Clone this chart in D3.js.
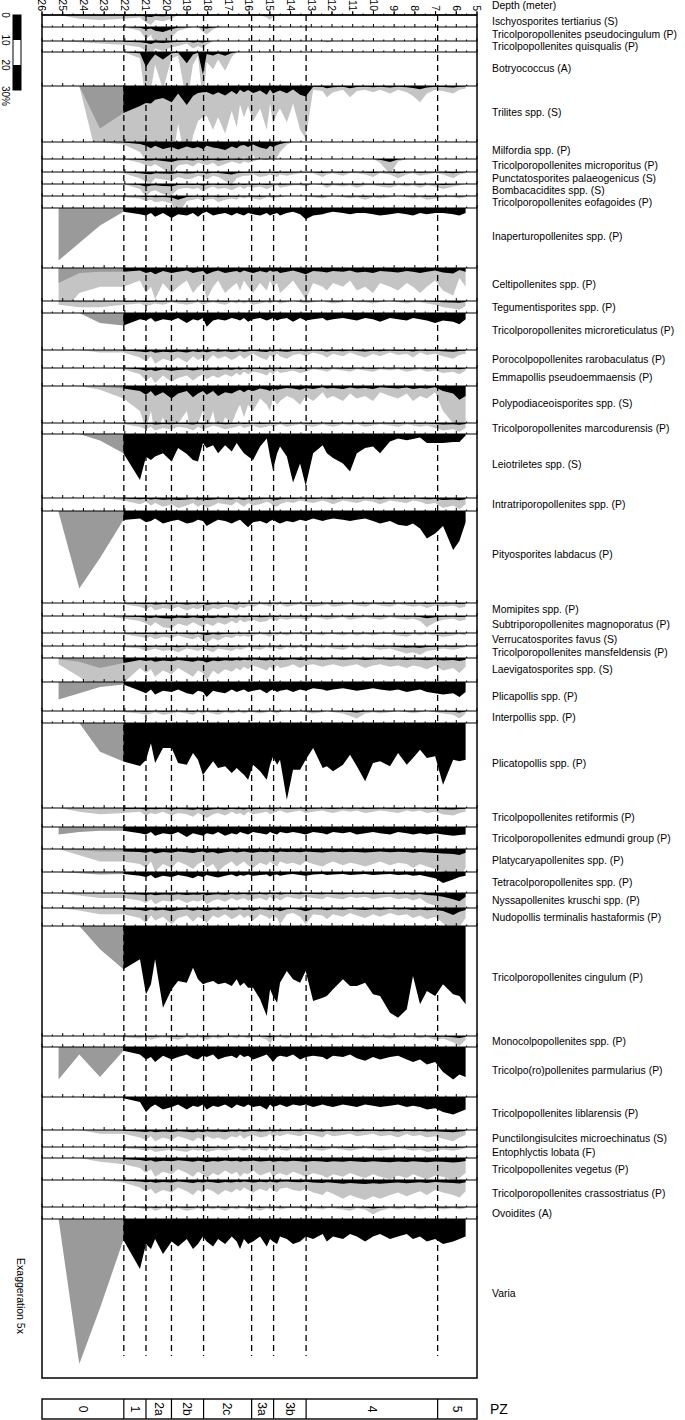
<!DOCTYPE html>
<html><head><meta charset="utf-8">
<script src="https://cdn.jsdelivr.net/npm/d3@7"></script>
<style>body{margin:0;background:#fff}svg{display:block;font-family:"Liberation Sans",Arial,sans-serif}</style>
</head><body><svg id="c" width="685" height="1420"></svg>
<script>
// ---- sample depths (m): 3 zone-0 samples, then main section
const depths = [25.2,24.2,23.2,
 22.07,21.27,20.98,20.74,20.54,20.16,19.74,19.43,19.01,18.71,
 18.47,18.23,18.05,17.74,17.50,17.16,16.84,16.60,16.44,16.25,
 16.05,15.81,15.47,15.15,14.99,14.85,14.65,14.51,14.18,13.88,
 13.54,13.27,12.91,12.45,12.25,11.95,11.47,11.13,10.80,10.40,
 10.02,9.68,9.20,8.81,8.39,8.09,7.75,7.42,7.02,6.64,
 6.15,5.85,5.55];
const depthTicks = [26,25,24,23,22,21,20,19,18,17,16,15,14,13,12,11,10,9,8,7,6,5];
const zoneBounds = [26,22.05,20.98,19.75,18.2,15.88,14.82,13.25,6.9,5];
const zoneLabels = ["0","1","2a","2b","2c","3a","3b","4","5"];
const scaleTicks = [0,10,20,30];

// ---- percentages per taxon (same order as depths)
const ischyo=[0,0.3,0.4, 0.3,0.2,0.6,0.8,0.4,0.5,0.3,0,0,0.1, 0,0,0.1,0,0,0,0,0,0,0, 0,0,0,0.2,0.4,0.1,0,0,0,0, 0,0,0,0,0,0,0,0,0,0, 0,0,0,0,0,0,0,0,0,0, 0,0,0];
const pseudocing=[0,0,0, 0,0.3,1.0,0.6,1.5,2.0,0.8,0.3,0.1,0, 0,0.4,0.6,0.2,0,0,0,0,0,0, 0,0,0,0,0.1,0,0,0,0,0, 0,0,0,0,0,0,0,0,0,0, 0,0,0,0,0,0,0,0,0,0, 0,0,0];
const quisq=[0,0.1,0.2, 0.3,0.5,0.8,1.2,0.6,0.8,0.5,0.4,0.2,0.6, 0.4,0.6,0.3,0,0,0,0,0,0,0, 0,0,0,0,0,0,0,0,0,0, 0,0,0,0,0.1,0,0,0,0,0, 0,0,0,0,0,0,0,0,0,0, 0,0,0];
const botryo=[0,0,0, 0,0.5,6,3,1,3,0.5,0.3,4.5,1, 0.3,9,0.8,1.4,0.6,1.5,0.4,0,0,0, 0,0,0,0,0,0,0,0,0,0, 0,0,0,0,0,0,0,0,0,0, 0,0,0,0,0,0,0,0,0,0, 0,0,0];
const trilites=[0,0,17, 10.8,8,6.8,7,5.5,4.8,6.5,3,7.6,4, 2.8,2.5,2.4,3.5,2.5,3.8,2,3.3,1.5,2.5, 1.6,2.8,1.8,3.5,1.4,3,2.2,1.8,2.9,1.4, 3.5,4.2,0.3,0.4,0.9,0.5,0.3,0.9,0.4,0.3, 0.5,0.3,0.6,0.3,0.5,0.8,1.3,0.6,0.3,0.4, 0.6,0.3,0.2];
const milfordia=[0,0,0, 0.2,0.8,1.5,2.5,1.5,2.8,2.0,3.0,1.8,2.5, 2,2.8,1.5,2.2,2.5,3.2,1.8,2.5,1.5,1.2, 2.0,1.0,2.2,2.8,1.5,2,1.2,0.8,0.2,0, 0,0,0,0,0,0,0,0,0,0, 0,0,0,0,0,0,0,0,0,0, 0,0,0];
const micropor=[0,0,0, 0,0.3,0.5,0.6,0.4,0.8,1.2,0.5,0.4,0.6, 0.3,0.4,0.5,0.3,0.6,0.4,0.2,0.3,0.4,0.2, 0.3,0.2,0,0.1,0,0,0,0,0,0, 0,0,0,0,0,0,0,0,0,0, 0,0.3,1.2,0.2,0,0,0,0,0,0, 0,0,0];
const punctato=[0,0,0, 0.1,0.5,0.8,0.9,0.5,0.6,0.7,0.4,0.6,0.5, 0.3,0.4,0.6,0.3,0.4,0.7,1.0,0.5,0.4,0.3, 0.3,0.2,0.4,0.3,0.2,0.3,0.4,0.2,0.3,0.2, 0.1,0.1,0.1,0.4,0.2,0.1,0.3,0.1,0.1,0.2, 0.4,0.1,0.2,0.5,0.2,0.1,0.3,0.2,0.1,0.2, 0.5,0.2,0.1];
const bombac=[0,0,0, 0,0.4,1.0,0.6,0.5,0.8,0.9,0.4,0.3,0.4, 0.3,0.6,0.4,0.2,0.4,0.3,0.5,0.3,0.2,0.4, 0.2,0.3,0.2,0.4,0.3,0.2,0.1,0.3,0.2,0.1, 0.1,0.2,0,0.1,0.3,0.1,0.2,0.1,0.3,0.1, 0.1,0.2,0.3,0.1,0.2,0.1,0.3,0.1,0.2,0.4, 0.2,0.1,0];
const eofag=[0,0,0, 0.1,0.2,0.4,0.3,0.5,0.4,0.6,1.5,0.4,0.3, 0.2,0.4,0.3,0.2,0.5,0.3,0.2,0.3,0.1,0.2, 0.1,0.2,0.3,0.1,0.1,0.2,0.1,0.1,0,0, 0,0,0.1,0.2,0.1,0,0.1,0.2,0.1,0.3, 0.1,0.2,0.1,0,0.1,0.2,0.1,0.3,0.2,0.1, 0.1,0.2,0.1];
const inapert=[21,14,7, 1.5,2.5,3,2,3.5,2,4,2.5,3,2, 3.5,2,1.5,3,2.5,2,3,2,2.5,3, 2,2.5,3,2,3,2.5,2,3,2,1.5, 2.5,4.5,3,2.5,2,1.5,2,2.5,2,2, 2.5,3,2.5,2,2.5,3,2,2.5,2,2, 2.5,3,2];
const celti=[6,2,1.5, 1.5,1,2,1.5,2.5,1.2,2,1.5,1,2, 1.5,1.2,2.5,1.5,1,2,1.5,1.2,1.8,1, 1.5,2,1.2,1.8,1,1.5,1.2,2,1.5,1, 1.8,2.5,1.2,1.5,1.8,1.2,1.5,1,1.8,1.5, 2,1.2,1.5,1.8,1.2,1.5,2,1.5,1,1.8, 2.2,0.8,1.5];
const tegument=[0.3,0.5,0.5, 0.3,0.2,0.4,0.3,0.2,0.3,0.1,0.2,0.3,0.2, 0.1,0.3,0.2,0.1,0.2,0.3,0.1,0.2,0.1,0.2, 0.1,0.3,0.2,0.1,0.2,0.1,0.1,0.2,0.1,0, 0.1,0.2,0.1,0,0.1,0.2,0.1,0,0.1,0.1, 0.2,0.1,0,0.1,0.2,0.1,0.1,0.2,0.3,0.5, 0.6,0.7,0.4];
const microret=[0,0,4, 5,2.5,3,2,3.5,2.5,3,2,4,2.5, 3,2,5.5,3,2.5,3,2,2.5,3,2, 3.5,2.5,2,3,2.5,2,3,2.5,2,3.5, 2,3,2.5,2,3,2.5,2,2.5,3,2, 2.5,3.5,2,2.5,3,2,2.5,3,4,3, 3.5,4.5,2.5];
const porocol=[0,0,0.2, 0.2,0.6,0.9,0.5,1.1,0.7,0.9,0.6,1.0,0.5, 0.8,0.6,0.9,0.4,0.7,0.5,0.8,0.6,0.4,0.7, 0.5,0.3,0.6,0.8,0.4,0.6,0.3,0.5,0.7,0.4, 0.3,0.5,0.2,0.4,0.6,0.3,0.5,0.2,0.4,0.6, 0.3,0.5,0.2,0.4,0.3,0.6,0.2,0.4,0.3,0.5, 0.7,0.4,0.3];
const emma=[0,0,0, 0.1,0.5,1.0,0.7,1.2,0.6,1.1,0.8,0.6,1.0, 0.7,0.5,0.9,0.6,0.8,0.5,0.7,0.4,0.6,0.3, 0.5,0.3,0.4,0.6,0.3,0.5,0.2,0.4,0.3,0.2, 0.4,0.3,0.1,0.2,0.3,0.1,0.2,0.3,0.1,0.2, 0.3,0.1,0.2,0.1,0.3,0.2,0.1,0.3,0.2,0.4, 0.3,0.5,0.2];
const polypod=[0,0,0.3, 1,2,3.5,2,4,2.5,5,3,2,4.5, 3,2,3.5,2,4,2.5,3,2,1.5,2.5, 1.5,2,1,1.5,2,1,1.5,1.2,0.8,1, 1.5,0.8,1.2,0.5,1,0.8,1.2,0.6,1,0.8, 1.2,0.5,0.8,1,0.6,1.2,0.8,1,0.5,2, 3,5.5,4];
const marcod=[0,0,0, 0.1,0.3,0.5,0.3,0.6,0.4,0.5,0.3,0.4,0.6, 0.3,0.5,0.4,0.2,0.3,0.5,0.4,0.3,0.2,0.4, 0.3,0.2,0.4,0.3,0.2,0.3,0.2,0.1,0.3,0.2, 0.1,0.2,0.3,0.1,0.2,0.3,0.1,0.2,0.1,0.3, 0.2,0.1,0.2,0.3,0.1,0.2,0.3,0.2,0.4,0.6, 0.5,0.7,0.4];
const leio=[0,0,2.6, 7.7,18.4,9.1,10.4,9,7.7,11,5.6,8,10.4, 11,3.6,5.6,4.5,7.7,4.5,7,3.6,5.6,7.7, 9,10.4,5,1.8,9,14.4,7.7,5,9,19.4, 11.8,20.7,7.7,4.5,7.7,9.6,11.8,15,7.7,5.6, 5,7.7,3,1.8,2.5,2,1.4,3.6,3.6,3.6, 3.2,3.2,0.6];
const intratri=[0,0,0, 0.2,0.5,0.3,0.6,0.4,0.7,0.5,0.8,0.6,0.4, 0.7,0.5,0.8,0.6,0.4,0.5,0.6,0.3,0.5,0.7, 0.4,0.6,0.5,0.3,0.4,0.6,0.7,0.5,0.3,0.4, 0.2,0.3,0.4,0.2,0.3,0.5,0.2,0.3,0.4,0.2, 0.3,0.5,0.2,0.3,0.4,0.2,0.3,0.5,0.4,0.8, 0.6,0.9,0.5];
const pityo=[0.5,31,18.8, 3.6,3,4.5,4,3,5,4,3.5,5,4.5, 3.5,4,6,4.5,3.5,4,5,4,3.5,5, 6.5,4.5,4,5,4,3.5,4.5,5,4,4.5, 3.5,4,3,4,3.5,3,3.5,4,3.5,3, 4,5,4,5.5,6,5,7,11,9,6, 15.6,12,4.5];
const momip=[0,0,0, 0.1,0.3,0.5,0.3,0.6,0.4,0.5,0.3,0.6,0.4, 0.5,0.3,0.7,0.4,0.5,0.3,0.4,0.6,0.3,0.4, 0.2,0.3,0.1,0.2,0.3,0.1,0.2,0.1,0.3,0.2, 0.1,0.2,0.3,0.2,0.1,0.3,0.2,0.1,0.2,0.3, 0.1,0.2,0.3,0.1,0.2,0.3,0.2,0.4,0.2,0.3, 0.2,0.4,0.3];
const subtri=[0,0,0, 0.2,0.4,0.6,0.8,0.5,0.9,1.0,0.6,0.8,0.5, 0.7,0.9,0.6,0.8,0.5,0.7,0.4,0.6,0.3,0.5, 0.4,0.3,0.5,0.4,0.2,0.3,0.4,0.2,0.3,0.2, 0.2,0.3,0.1,0.2,0.3,0.2,0.1,0.3,0.2,0.1, 0.2,0.3,0.1,0.2,0.3,0.2,0.4,0.9,0.5,0.3, 0.2,0.4,0.3];
const verruc=[0,0,0, 0.1,0.3,0.4,0.3,0.5,0.3,0.4,0.2,0.4,0.5, 0.3,0.6,0.8,0.4,0.6,0.3,0.4,0.2,0.3,0.2, 0.3,0.2,0.1,0.2,0.3,0.1,0.2,0.1,0.2,0.1, 0.1,0.2,0.1,0.2,0.1,0.1,0.2,0.1,0.2,0.1, 0.2,0.1,0.1,0.2,0.3,0.1,0.2,0.1,0.2,0.3, 0.2,0.1,0.2];
const mansf=[0,0,0, 0.1,0.2,0.4,0.3,0.2,0.4,0.3,0.5,0.2,0.3, 0.4,0.2,0.3,0.5,0.2,0.3,0.4,0.2,0.3,0.2, 0.1,0.2,0.3,0.1,0.2,0.1,0.2,0.3,0.1,0.2, 0.1,0.2,0.1,0.2,0.1,0.2,0.3,0.1,0.2,0.1, 0.2,0.3,0.2,0.4,0.6,0.5,0.7,0.4,0.3,0.2, 0.3,0.2,0.1];
const laevig=[0.5,1.5,4, 2,0.8,1.2,0.9,1.5,1,1.3,0.8,1.2,1.5, 1,1.2,1.8,1,1.3,0.9,1.1,0.8,1,0.7, 0.9,0.6,0.8,1,0.7,0.9,0.6,0.8,0.7,0.5, 0.8,0.6,0.5,0.7,0.6,0.5,0.7,0.6,0.5,0.8, 0.6,0.5,0.7,0.6,0.8,0.6,0.7,0.9,0.6,1, 0.8,1.2,0.7];
const plicap=[7,4.5,2, 1,3.5,4.5,3,5,3.5,4,3,4.5,5, 3.5,4,6,3.5,4,4.5,3,4,3.5,3, 4,3.5,3,4.5,3.5,3,4,3.5,3,4, 3,3.5,2.5,3,3.5,3,2.5,3,3.5,3, 2.5,3,3.5,3,4,3.5,3,4,4.5,5, 4.5,6,4];
const interp=[0,0,0, 0.1,0.2,0.3,0.2,0.1,0.3,0.2,0.1,0.2,0.3, 0.1,0.2,0.1,0.2,0.3,0.1,0.2,0.1,0.1,0.2, 0.1,0.1,0.2,0.1,0,0.1,0.2,0.1,0,0.1, 0,0.1,0.2,0.1,0,0.1,0.2,0.4,0.6,0.2, 0.1,0.2,0.1,0,0.1,0.2,0.1,0,0.1,0.2, 0.3,0.6,0.2];
const plicat=[0,0,11.5, 15.4,17.2,14.8,8.1,16,10,10,16,16.7,12, 14.7,20.8,18.7,15.3,18,17.3,20,18,19.3,20.7, 22.7,16.7,19.3,22.7,16.7,13.5,16.7,14.7,30.7,18.7, 18.7,14.7,10,18,17.3,19.3,16.7,12.7,17.3,23.3, 16,15.3,17.3,12,16.7,14,10.7,14,13.3,24.7, 14.7,15.3,14.7];
const retif=[0,0.3,0.5, 0.4,0.3,0.6,0.4,0.5,0.3,0.6,0.4,0.5,0.7, 0.4,0.6,0.8,0.5,0.4,0.6,0.3,0.5,0.4,0.6, 0.3,0.5,0.4,0.3,0.5,0.4,0.3,0.2,0.4,0.3, 0.2,0.4,0.3,0.2,0.3,0.4,0.2,0.3,0.2,0.4, 0.3,0.2,0.3,0.4,0.2,0.3,0.2,0.4,0.3,0.5, 0.6,0.4,0.3];
const edmundi=[3,2,1.5, 1.5,2.5,3,2,3.5,2.5,3,2,4,2.5, 3,3.5,2.5,3,2,3.5,2.5,3,2,2.5, 3,2,2.5,3,2,2.5,3,2,2.5,2, 2.5,3,2,2.5,3,2,2.5,2,3,2.5, 2,2.5,3,2,2.5,3,2.5,3,2.5,3, 3.5,3.2,3];
const platy=[0,0.5,1, 1,1.2,1.5,1,1.8,1.2,1.5,1,1.3,1.6, 1.2,1,1.5,1.2,1.8,1.3,1,1.4,1.2,1, 1.3,1.5,1.1,1.3,1,1.2,1.4,1,1.2,1.1, 1.3,1,1.2,1.4,1.2,1,1.3,1.1,1.2,1.4, 1.2,1,1.3,1.1,1.2,1.5,1.2,1.4,1.6,1.8, 2,2.4,1.5];
const tetra=[0,0.5,1, 0.8,1.5,2,1.2,2.5,1.5,2,1.2,1.8,2.5, 1.5,2,1.2,1.8,2.2,1.5,1,1.8,1.2,1.5, 1,1.5,1.2,1,1.8,1.2,1,1.5,1,0.8, 1.2,1.5,1,0.8,1.2,1,0.8,1.2,1,0.8, 1.2,1,0.8,1.2,1,1.5,1.2,1.8,2.5,4.4, 3,2,1.5];
const nyssa=[0,0.2,0.4, 0.4,0.6,0.8,0.5,0.9,0.6,0.7,0.5,0.8,0.6, 0.7,0.5,0.9,0.6,0.5,0.7,0.4,0.6,0.5,0.4, 0.6,0.5,0.4,0.6,0.3,0.5,0.4,0.6,0.3,0.4, 0.5,0.3,0.4,0.5,0.3,0.4,0.5,0.3,0.4,0.3, 0.5,0.4,0.3,0.5,0.4,0.6,0.4,0.8,1,1.5, 2.5,3.3,1.5];
const nudop=[0,0.2,0.5, 0.5,0.8,1.2,0.6,1,0.7,1.3,0.8,0.6,1.1, 0.7,0.9,1.2,0.6,0.8,0.5,0.9,0.7,0.5,0.8, 0.6,1,0.5,0.7,0.9,0.6,0.8,1.3,0.5,0.4, 0.7,1.3,0.5,0.6,0.9,0.5,0.7,0.4,0.6,0.8, 0.5,0.7,0.4,0.6,0.5,0.8,0.6,0.9,0.7,1.2, 2.8,1.5,0.8];
const cingulum=[0,0,9.3, 17.3,13.3,27.3,23.3,13.3,32.7,25.3,22,22.7,16.7, 21.3,23.3,22.7,22,23.3,22.7,24,21.3,24,22.7, 24.7,24.7,29.3,36,25.3,28,30.7,22.7,18,21.3, 22.7,18,30,28.7,28,25.3,21.3,24,24,22.7, 27.3,28,34.7,36.7,33.3,20,31.3,26,28,23.3, 27.3,28,31.3];
const monocol=[0,0,0, 0.1,0.2,0.1,0.3,0.2,0.1,0.2,0.3,0.1,0.2, 0.1,0.2,0.3,0.1,0.2,0.1,0.1,0.2,0.1,0.1, 0.2,0.1,0.1,0.3,0.6,0.2,0.1,0.1,0.2,0.1, 0.1,0.1,0.2,0.1,0.1,0.2,0.1,0.1,0.1,0.2, 0.1,0.1,0.2,0.1,0.1,0.1,0.2,0.1,0.3,0.2, 0.5,0.8,0.3];
const parmul=[13,3,12, 1.5,3,5,4,6,3.5,5,4,3,4.5, 5,3.5,4,3,5,4,3.5,4.5,3,4, 3.5,5,4,3,4.5,6,4,3.5,4,3, 5,4,3.5,4,5,3.5,4,3,4.5,5.5, 4,5,4,3.5,5,6,5,7,6,10, 13,11,12];
const liblar=[0,0,0.5, 0.5,2,6,4,3,5,4,3,5,3.5, 4,3,5,3.5,4,3,4.5,3,3.5,4, 3,4,3.5,5,3,4,3.5,3,4,3, 3.5,3,4,3,3.5,4,3,3.5,4,3, 3.5,4,3.5,3,4,3.5,4,5,4.5,6, 7,6,5];
const punctil=[0,0,0.3, 0.3,0.6,0.8,0.5,0.9,0.6,0.8,0.5,0.7,0.9, 0.6,0.8,0.5,0.7,0.6,0.8,0.5,0.6,0.4,0.7, 0.5,0.4,0.6,0.5,0.3,0.6,0.4,0.5,0.3,0.4, 0.5,0.3,0.4,0.6,0.3,0.5,0.4,0.3,0.5,0.4, 0.3,0.5,0.4,0.6,0.3,0.5,0.4,0.6,0.5,0.7, 0.9,0.6,0.4];
const entoph=[0,0,0, 0.1,0.2,0.3,0.2,0.4,0.3,0.2,0.3,0.4,0.2, 0.3,0.2,0.4,0.3,0.2,0.3,0.2,0.1,0.2,0.3, 0.2,0.1,0.2,0.3,0.1,0.2,0.1,0.2,0.3,0.1, 0.2,0.1,0.2,0.3,0.2,0.1,0.2,0.3,0.2,0.1, 0.2,0.3,0.2,0.1,0.2,0.3,0.2,0.4,0.3,0.2, 0.3,0.2,0.1];
const vegetus=[0,0,0.3, 0.5,0.8,1.2,0.9,1.5,1.1,1.3,0.9,1.2,1.5, 1.1,1.3,1.6,1.2,1.4,1,1.3,1.1,1.5,1.2, 1.3,1,1.4,1.2,1.1,1.5,1.3,1.2,1.4,1.1, 1.3,1.5,1.2,1.4,1.6,1.3,1.5,1.2,1.4,1.6, 1.3,1.5,1.7,1.4,1.6,1.3,1.5,1.7,1.4,1.5, 1.8,1.6,1.2];
const crasso=[0,0,0, 0.2,0.6,0.9,0.7,1.1,0.8,1,0.6,0.9,1.2, 0.8,1,0.7,0.9,1.2,0.8,1,0.7,0.9,0.6, 0.8,1,0.7,0.9,0.6,0.8,1,0.7,0.6,0.8, 0.9,0.7,1,1.2,0.9,1.1,1.5,1.2,1.4,1.6, 1.3,1.5,1.2,1,1.3,1.1,0.9,1.2,0.8,1, 1.2,1.4,0.9];
const ovoid=[0,0,0, 0,0.1,0.2,0.1,0.3,0.1,0.2,0.1,0.3,0.2, 0.1,0.2,0.1,0.2,0.1,0.3,0.1,0.2,0.1,0.1, 0.2,0.1,0.3,0.1,0.2,0.1,0.1,0.2,0.1,0.1, 0.1,0.2,0.1,0.2,0.1,0.1,0.2,0.3,0.1,0.2, 0.6,0.3,0.1,0.2,0.1,0.1,0.2,0.1,0.1,0.2, 0.1,0.2,0.1];
const varia=[0,58,35.6, 8.4,20,10,12,8,14,9,11,8,12, 10,7,9,11,8,10,7,9,12,8, 10,9,7,11,8,9,10,7,8,10, 9,7,8,6,9,7,8,6,7,9, 7,6,8,7,6,8,7,9,8,10, 9,8,7];

// ---- taxa: label, values, axis range (%), 5x exaggeration curve shown
const taxa = [
 ["Ischyosporites tertiarius (S)", ischyo, 4.8, true],
 ["Tricolporopollenites pseudocingulum (P)", pseudocing, 5.6, true],
 ["Tricolpopollenites quisqualis (P)", quisq, 4.4, true],
 ["Botryococcus (A)", botryo, 13.6, true],
 ["Trilites spp. (S)", trilites, 22.4, true],
 ["Milfordia spp. (P)", milfordia, 6.8, true],
 ["Tricolporopollenites microporitus (P)", micropor, 5.2, true],
 ["Punctatosporites palaeogenicus (S)", punctato, 4.8, true],
 ["Bombacacidites spp. (S)", bombac, 4.8, true],
 ["Tricolporopollenites eofagoides (P)", eofag, 4.8, true],
 ["Inaperturopollenites spp. (P)", inapert, 24, false],
 ["Celtipollenites spp. (P)", celti, 13.2, true],
 ["Tegumentisporites spp. (P)", tegument, 4.8, true],
 ["Tricolporopollenites microreticulatus (P)", microret, 14.8, false],
 ["Porocolpopollenites rarobaculatus (P)", porocol, 7.2, true],
 ["Emmapollis pseudoemmaensis (P)", emma, 7.2, true],
 ["Polypodiaceoisporites spp. (S)", polypod, 14.8, true],
 ["Tricolporopollenites marcodurensis (P)", marcod, 4.4, true],
 ["Leiotriletes spp. (S)", leio, 25.6, false],
 ["Intratriporopollenites spp. (P)", intratri, 5.2, true],
 ["Pityosporites labdacus (P)", pityo, 36.8, false],
 ["Momipites spp. (P)", momip, 5.2, true],
 ["Subtriporopollenites magnoporatus (P)", subtri, 6.8, true],
 ["Verrucatosporites favus (S)", verruc, 5.2, true],
 ["Tricolporopollenites mansfeldensis (P)", mansf, 4.8, true],
 ["Laevigatosporites spp. (S)", laevig, 9.6, true],
 ["Plicapollis spp. (P)", plicap, 11.6, false],
 ["Interpollis spp. (P)", interp, 4.8, true],
 ["Plicatopollis spp. (P)", plicat, 34, false],
 ["Tricolpopollenites retiformis (P)", retif, 7.6, true],
 ["Tricolporopollenites edmundi group (P)", edmundi, 8.8, false],
 ["Platycaryapollenites spp. (P)", platy, 9.2, true],
 ["Tetracolporopollenites spp. (P)", tetra, 8.4, false],
 ["Nyssapollenites kruschi spp. (P)", nyssa, 6, true],
 ["Nudopollis terminalis hastaformis (P)", nudop, 7.2, true],
 ["Tricolporopollenites cingulum (P)", cingulum, 44, false],
 ["Monocolpopollenites spp. (P)", monocol, 4.4, true],
 ["Tricolpo(ro)pollenites parmularius (P)", parmul, 20, false],
 ["Tricolpopollenites liblarensis (P)", liblar, 13.2, false],
 ["Punctilongisulcites microechinatus (S)", punctil, 6.8, true],
 ["Entophlyctis lobata (F)", entoph, 4.4, true],
 ["Tricolpopollenites vegetus (P)", vegetus, 8.8, true],
 ["Tricolporopollenites crassostriatus (P)", crasso, 10.8, true],
 ["Ovoidites (A)", ovoid, 4.8, true],
 ["Varia", varia, 63.6, false]
];

// ---- drawing
const X0 = 42, X1 = 477, TOP = 15, PX_PER_PCT = 2.5, EXAG = 5, NZ0 = 3;
const LIGHT = "#c4c4c4", MID = "#9a9a9a";
const LABEL_SIZE = 10.4;
const svg = d3.select("#c");
const defs = svg.append("defs");
const xs = d3.scaleLinear().domain([26, 5]).range([X0, X1]);
const halfTicks = d3.range(25.5, 5, -1);

let bandTop = TOP;
const bands = [];
const dataG = svg.append("g");
taxa.forEach((t, i) => {
  const [label, vals, maxPct, exag] = t;
  const h = maxPct * PX_PER_PCT;
  const t0 = bandTop;
  const ys = d3.scaleLinear().domain([0, maxPct]).range([t0, t0 + h]);
  const cid = "clip" + i;
  defs.append("clipPath").attr("id", cid).append("rect")
    .attr("x", X0).attr("y", t0).attr("width", X1 - X0).attr("height", h);
  const pts = depths.map((d, j) => ({ d, v: vals[j] }));
  const g = dataG.append("g").attr("clip-path", `url(#${cid})`);
  if (exag) {
    g.append("path").datum(pts).attr("fill", LIGHT)
      .attr("d", d3.area().x(p => xs(p.d)).y0(t0).y1(p => ys(Math.min(p.v * EXAG, maxPct * 1.5))));
  }
  const area = d3.area().x(p => xs(p.d)).y0(t0).y1(p => ys(p.v));
  g.append("path").datum(pts.slice(0, NZ0 + 1)).attr("fill", MID).attr("d", area);
  g.append("path").datum(pts.slice(NZ0)).attr("fill", "#000").attr("d", area);
  bands.push({ label, top: t0, h });
  bandTop += h;
});
const BOTTOM = bandTop;

// zone boundaries (dashed)
svg.append("g").selectAll("line").data(zoneBounds.slice(1, -1)).join("line")
  .attr("x1", d => xs(d)).attr("x2", d => xs(d))
  .attr("y1", TOP).attr("y2", 1356)
  .attr("stroke", "#000").attr("stroke-width", 1.3).attr("stroke-dasharray", "6,4");

// band baselines with ticks
const lineG = svg.append("g");
bands.forEach(b => {
  lineG.append("line").attr("x1", X0).attr("x2", X1).attr("y1", b.top).attr("y2", b.top)
    .attr("stroke", "#000").attr("stroke-width", 1.2);
  lineG.append("g").selectAll("line").data(depthTicks).join("line")
    .attr("x1", d => xs(d)).attr("x2", d => xs(d)).attr("y1", b.top).attr("y2", b.top - 3)
    .attr("stroke", "#000").attr("stroke-width", 1);
  lineG.append("g").selectAll("line").data(halfTicks).join("line")
    .attr("x1", d => xs(d)).attr("x2", d => xs(d)).attr("y1", b.top).attr("y2", b.top - 1.5)
    .attr("stroke", "#000").attr("stroke-width", 1);
  svg.append("text").attr("x", 492).attr("y", b.top + Math.min(b.h / 2, b.h / 2 - (b.h - 20) * 0.04)).attr("dy", "0.35em")
    .attr("font-size", LABEL_SIZE).text(b.label);
});

// frame
svg.append("rect").attr("x", X0).attr("y", TOP).attr("width", X1 - X0).attr("height", BOTTOM - TOP)
  .attr("fill", "none").attr("stroke", "#000").attr("stroke-width", 1.5);

// depth axis (top)
const ax = svg.append("g");
ax.selectAll("line").data(depthTicks).join("line")
  .attr("x1", d => xs(d)).attr("x2", d => xs(d)).attr("y1", TOP).attr("y2", TOP - 4)
  .attr("stroke", "#000").attr("stroke-width", 1);
ax.selectAll("text").data(depthTicks).join("text")
  .attr("transform", d => `translate(${xs(d)},${TOP - 4}) rotate(90)`)
  .attr("text-anchor", "end").attr("dy", "0.35em").attr("font-size", 10.5).text(d => d);
svg.append("text").attr("x", 492).attr("y", 5).attr("dy", "0.35em").attr("font-size", LABEL_SIZE).text("Depth (meter)");

// percentage scale bar
const sb = d3.scaleLinear().domain([0, 30]).range([15, 90]);
svg.append("rect").attr("x", 13).attr("y", sb(0)).attr("width", 8).attr("height", sb(30) - sb(0))
  .attr("fill", "#fff").attr("stroke", "#000").attr("stroke-width", 1);
svg.append("rect").attr("x", 13).attr("y", sb(0)).attr("width", 8).attr("height", sb(10) - sb(0)).attr("fill", "#000");
svg.append("rect").attr("x", 13).attr("y", sb(20)).attr("width", 8).attr("height", sb(30) - sb(20)).attr("fill", "#000");
svg.append("g").selectAll("text").data(scaleTicks).join("text")
  .attr("transform", d => `translate(5,${sb(d)}) rotate(90)`)
  .attr("text-anchor", d => d === 30 ? "start" : "middle")
  .attr("dx", d => d === 30 ? -4 : 0)
  .attr("dy", "0.35em").attr("font-size", 10).text(d => d === 30 ? d + "%" : d);

// exaggeration note
svg.append("text").attr("transform", `translate(21,1296) rotate(90)`).attr("text-anchor", "middle")
  .attr("dy", "0.35em").attr("font-size", 10.5).text("Exaggeration 5x");

// pollen zones
const PZ0 = 1399, PZ1 = 1419;
const pz = svg.append("g");
pz.append("rect").attr("x", X0).attr("y", PZ0).attr("width", X1 - X0).attr("height", PZ1 - PZ0)
  .attr("fill", "none").attr("stroke", "#000").attr("stroke-width", 1.4);
pz.selectAll("line").data(zoneBounds.slice(1, -1)).join("line")
  .attr("x1", d => xs(d)).attr("x2", d => xs(d)).attr("y1", PZ0).attr("y2", PZ1)
  .attr("stroke", "#000").attr("stroke-width", 1.2);
pz.selectAll("text").data(zoneLabels).join("text")
  .attr("transform", (d, i) => `translate(${(xs(zoneBounds[i]) + xs(zoneBounds[i + 1])) / 2},${(PZ0 + PZ1) / 2}) rotate(90)`)
  .attr("text-anchor", "middle").attr("dy", "0.35em").attr("font-size", 12).text(d => d);
svg.append("text").attr("x", 490).attr("y", (PZ0 + PZ1) / 2).attr("dy", "0.35em").attr("font-size", 14).text("PZ");
</script></body></html>
